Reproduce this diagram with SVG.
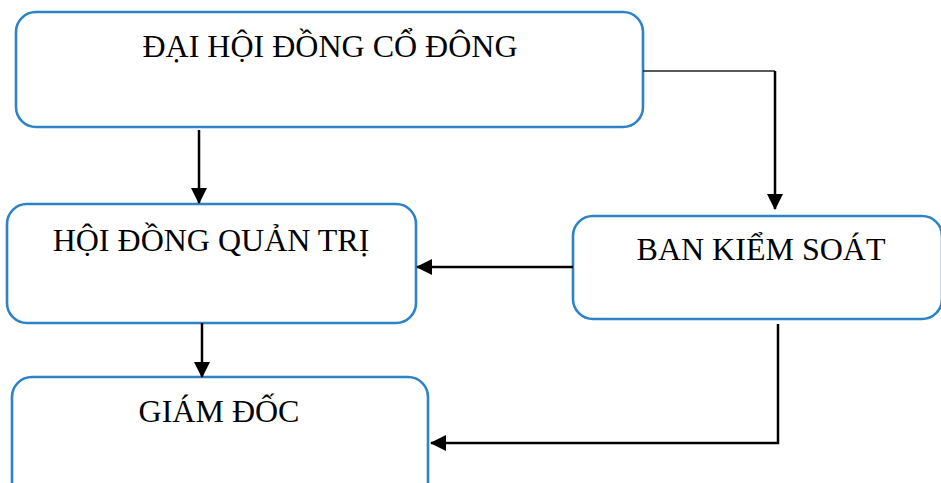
<svg xmlns="http://www.w3.org/2000/svg" width="941" height="483" viewBox="0 0 941 483">
<defs>
<style>
.box{fill:#fff;stroke:#2E83C6;stroke-width:2.6}
.lbl{font-family:"Liberation Serif","Times New Roman",serif;font-size:32px;fill:#000;text-anchor:middle}
.c{fill:none;stroke:#000;stroke-width:2.5}
.thin{fill:none;stroke:#222;stroke-width:1.3}
</style>
<marker id="ah" markerUnits="userSpaceOnUse" markerWidth="16" markerHeight="16" viewBox="0 0 16 16" refX="15" refY="8" orient="auto">
<path d="M0,0 L16,8 L0,16 Z" fill="#000"/>
</marker>
</defs>
<rect width="941" height="483" fill="#fff"/>
<g id="dai-hoi-dong-co-dong">
<rect class="box" x="16" y="12" width="627" height="115" rx="20"/>
<text class="lbl" x="330" y="57">ĐẠI HỘI ĐỒNG CỔ ĐÔNG</text>
</g>
<g id="hoi-dong-quan-tri">
<rect class="box" x="7" y="204" width="409" height="119" rx="20"/>
<text class="lbl" x="211" y="251">HỘI ĐỒNG QUẢN TRỊ</text>
</g>
<g id="ban-kiem-soat">
<rect class="box" x="573" y="216" width="369" height="103" rx="20"/>
<text class="lbl" x="761" y="260">BAN KIỂM SOÁT</text>
</g>
<g id="giam-doc">
<rect class="box" x="12" y="377" width="416" height="130" rx="20"/>
<text class="lbl" x="219" y="422">GIÁM ĐỐC</text>
</g>
<g id="connectors">
<line class="c" x1="199" y1="130" x2="199" y2="203" marker-end="url(#ah)"/>
<line class="thin" x1="643" y1="71" x2="775" y2="71"/>
<line class="c" x1="775" y1="71" x2="775" y2="209" marker-end="url(#ah)"/>
<line class="c" x1="573" y1="267" x2="417" y2="267" marker-end="url(#ah)"/>
<line class="c" x1="202" y1="323" x2="202" y2="377" marker-end="url(#ah)"/>
<polyline class="c" points="778,324 778,443 431,443" marker-end="url(#ah)"/>
</g>
</svg>
